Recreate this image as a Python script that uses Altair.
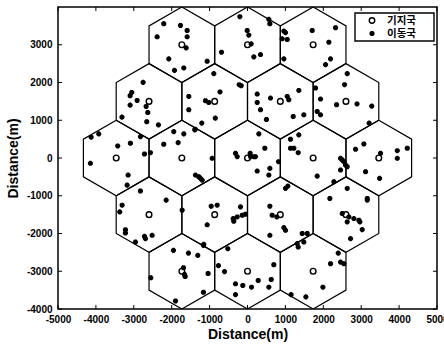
import altair as alt
import pandas as pd
import numpy as np

# ---- data -------------------------------------------------------------
cell_x = [-1732, 0, 1732,
          -2598, -866, 866, 2598,
          -3464, -1732, 0, 1732, 3464,
          -2598, -866, 866, 2598,
          -1732, 0, 1732]
cell_y = [3000, 3000, 3000,
          1500, 1500, 1500, 1500,
          0, 0, 0, 0, 0,
          -1500, -1500, -1500, -1500,
          -3000, -3000, -3000]
cell_radius = 1000.0

mobile_x = [
    # top row
    -2210, -2384, -1769, -1592, -1592, -1618, -2077, -1927, -1681, -1064,
    -686, -202, -8, 35, 97, 167, 343, 563, 590, 959, 1003, 915, 1048,
    959, 1707, 2147, 2323, 2191, 2059,
    # second row
    -2754, -3054, -3097, -2912, -3097, -2675, -2632, -3312, -2658, -2350,
    -1549, -1549, -1109, -1021, -726, -849, -1206, -1381, -889, -219, -166,
    256, 256, 343, 607, 1048, 1090, 1354, 1206, 1486, 500,
    1795, 1927, 1839, 1927, 2350, 2890, 3278, 3210, 2631, 2560,
    # middle row
    -4126, -3925, -3424, -3089, -2825, -2719, -2561, -4145, -3150, -3176, -2825,
    -2210, -1946, -1830, -1681, -1391, -1373, -1286, -1241, -1196,
    -932, -317, -272, 70, 79, 167, 211, 299, 457, 590, 256, 563, 1003, 1064, 818,
    1135, 1354, 1135, 1223, 1338, 1839, 2279, 2455, 2499, 2543, 2587, 2631, 2455, 2631,
    2851, 3070, 3115, 3485, 3511, 3952, 3952, 4216,
    # fourth row
    -3308, -3371, -3221, -3221, -2146, -2957, -2719, -2693, -2516,
    -1724, -1064, -958, -800, -378, -272, -140, -53, -185, -362, -1154,
    590, 651, 774, 959, 590, 1003, 1311, 1338, 1486, 1444, 1576,
    2173, 2499, 2675, 2807, 2939, 3160, 3160, 2719, 3027, 2631, 2965,
    # bottom row
    -1954, -1558, -1312, -1162, -1690, -1663, -1645, -1040, -2552, -1162, -1900,
    -520, -766, -607, -317, -124, 106, 282, 694, 626, 563, -317,
    1150, 1540, 1989, 2191, 2394, 2455, 2543,
]
mobile_y = [
    # top row
    3556, 3210, 3511, 3378, 3210, 2917, 2625, 2322, 2386, 2562,
    2802, 3743, 3378, 3253, 3024, 2678, 2740, 3671, 3556, 3360, 3320, 3157, 3139,
    2625, 3378, 3067, 3450, 2625, 2474,
    # second row
    2003, 1737, 1649, 1524, 1400, 1365, 1205, 1083, 960, 878,
    1631, 1277, 1516, 1471, 1750, 1056, 923, 763, 2234, 1942, 1915,
    1694, 1471, 1277, 1588, 1631, 1543, 1790, 1099, 1144, 1020,
    1854, 1561, 1232, 1144, 1410, 1432, 1374, 923, 2234, 1942,
    # middle row
    551, 638, 319, 391, 567, 106, 141, -141, -452, -718, -874,
    364, 700, 407, 638, 745, -452, -497, -540, -585,
    -8, 125, 35, 125, 35, 35, 35, 638, 258, -274, -346, -452, -806, -745, -98,
    497, 612, 258, 258, 141, -479, -630, -8, -53, -98, -186, -231, -319, -806,
    231, 372, -364, -540, 125, 194, -8, 258,
    # fourth row
    -1250, -1428, -1900, -1987, -1117, -2226, -2075, -2136, -2048,
    -1383, -1770, -1277, -1250, -1604, -1561, -1516, -1490, -1295, -1676, -2288,
    -1277, -1516, -1561, -1843, -2048, -1915, -2269, -2359, -2226, -2000, -2000,
    -1072, -1471, -1561, -1604, -1649, -1072, -1117, -2136, -1897, -1694, -1694,
    # bottom row
    -2447, -2519, -2580, -2314, -2907, -3086, -3139, -3060, -3173, -3556, -3787,
    -2402, -2850, -3010, -3333, -3378, -3422, -3245, -2828, -3219, -3422, -3618,
    -3618, -3680, -3422, -2801, -2519, -2758, -2801,
]

x_ticks = [-5000, -4000, -3000, -2000, -1000, 0, 1000, 2000, 3000, 4000, 5000]
y_ticks = [-4000, -3000, -2000, -1000, 0, 1000, 2000, 3000]
legend_labels = ["기지국", "이동국"]
axis_title = "Distance(m)"

# ---- tables -----------------------------------------------------------
angles = np.deg2rad([90, 30, -30, -90, -150, 150, 90])
rows = []
for i, (cx, cy) in enumerate(zip(cell_x, cell_y)):
    for k, a in enumerate(angles):
        rows.append({"cell": i, "k": k,
                     "x": cx + cell_radius * np.cos(a),
                     "y": cy + cell_radius * np.sin(a)})
hex_df = pd.DataFrame(rows)
bs_df = pd.DataFrame({"x": cell_x, "y": cell_y})
ms_df = pd.DataFrame({"x": mobile_x, "y": mobile_y})
xt_df = pd.DataFrame({"x": x_ticks})
yt_df = pd.DataFrame({"y": y_ticks})

# ---- styling ----------------------------------------------------------
W, H = 379, 302
FONT = "Liberation Sans"
ASTER = "M-1,0L1,0M0,-1L0,1M-0.7,-0.7L0.7,0.7M-0.7,0.7L0.7,-0.7"

xs = alt.Scale(domain=[-5000, 5000], nice=False, zero=False)
ys = alt.Scale(domain=[-4000, 4000], nice=False, zero=False)

xaxis = alt.Axis(values=x_ticks, ticks=False, domain=False, grid=False,
                 labelFont=FONT, labelFontWeight="bold", labelFontSize=10,
                 labelColor="black", labelPadding=5, labelFlush=False,
                 labelOverlap=False, labelExpr="'' + datum.value",
                 title=axis_title, titleFont=FONT, titleFontSize=14,
                 titleFontWeight="bold", titleColor="black", titlePadding=3)
yaxis = alt.Axis(values=y_ticks, ticks=False, domain=False, grid=False,
                 labelFont=FONT, labelFontWeight="bold", labelFontSize=10,
                 labelColor="black", labelPadding=6, labelFlush=False,
                 labelOverlap=False, labelExpr="'' + datum.value",
                 title=axis_title, titleFont=FONT, titleFontSize=14,
                 titleFontWeight="bold", titleColor="black", titlePadding=6)

X = alt.X("x:Q", scale=xs, axis=xaxis)
Y = alt.Y("y:Q", scale=ys, axis=yaxis)

hexes = alt.Chart(hex_df).mark_line(color="black", strokeWidth=1.2, clip=True).encode(
    x=X, y=Y, detail="cell:N", order="k:Q")

bs = alt.Chart(bs_df).mark_point(shape="circle", filled=False, color="black",
                                 size=32, strokeWidth=1.4, opacity=1).encode(x=X, y=Y)
ms = alt.Chart(ms_df).mark_point(shape=ASTER, filled=False, color="black",
                                 size=26, strokeWidth=1.8, opacity=1).encode(x=X, y=Y)

tick_b = alt.Chart(xt_df).mark_rule(color="black", strokeWidth=1).encode(
    x=X, y=alt.value(H), y2=alt.value(H - 4))
tick_t = alt.Chart(xt_df).mark_rule(color="black", strokeWidth=1).encode(
    x=X, y=alt.value(0), y2=alt.value(4))
tick_l = alt.Chart(yt_df).mark_rule(color="black", strokeWidth=1).encode(
    y=Y, x=alt.value(0), x2=alt.value(4))
tick_r = alt.Chart(yt_df).mark_rule(color="black", strokeWidth=1).encode(
    y=Y, x=alt.value(W), x2=alt.value(W - 4))

# manual legend box
leg_df = pd.DataFrame({"label": legend_labels})
leg_box = alt.Chart(leg_df.head(1)).mark_rect(fill="white", stroke="black", strokeWidth=1.4).encode(
    x=alt.value(297), x2=alt.value(376), y=alt.value(6), y2=alt.value(34))
leg_c = alt.Chart(leg_df.head(1)).mark_point(shape="circle", filled=False, color="black",
                                           size=30, strokeWidth=1.4, opacity=1).encode(
    x=alt.value(314), y=alt.value(13.5))
leg_s = alt.Chart(leg_df.head(1)).mark_point(shape=ASTER, filled=False, color="black",
                                           size=26, strokeWidth=1.8, opacity=1).encode(
    x=alt.value(314), y=alt.value(26.5))
leg_t1 = alt.Chart(leg_df.iloc[[0]]).mark_text(align="left", baseline="middle",
                                              font="Noto Sans CJK KR", fontWeight="bold",
                                              fontSize=10.5, color="black").encode(
    x=alt.value(329), y=alt.value(13.5), text="label:N")
leg_t2 = alt.Chart(leg_df.iloc[[1]]).mark_text(align="left", baseline="middle",
                                              font="Noto Sans CJK KR", fontWeight="bold",
                                              fontSize=10.5, color="black").encode(
    x=alt.value(329), y=alt.value(26.5), text="label:N")

chart = alt.layer(hexes, bs, ms, tick_b, tick_t, tick_l, tick_r,
                  leg_box, leg_c, leg_s, leg_t1, leg_t2).properties(
    width=W, height=H,
    padding={"left": 58, "top": 7, "right": 7, "bottom": 36},
    autosize=alt.AutoSizeParams(type="none"),
    background="white",
).configure_view(stroke="black", strokeWidth=1.5)

chart.save("out.html", embed_options={"renderer": "svg", "actions": False})
